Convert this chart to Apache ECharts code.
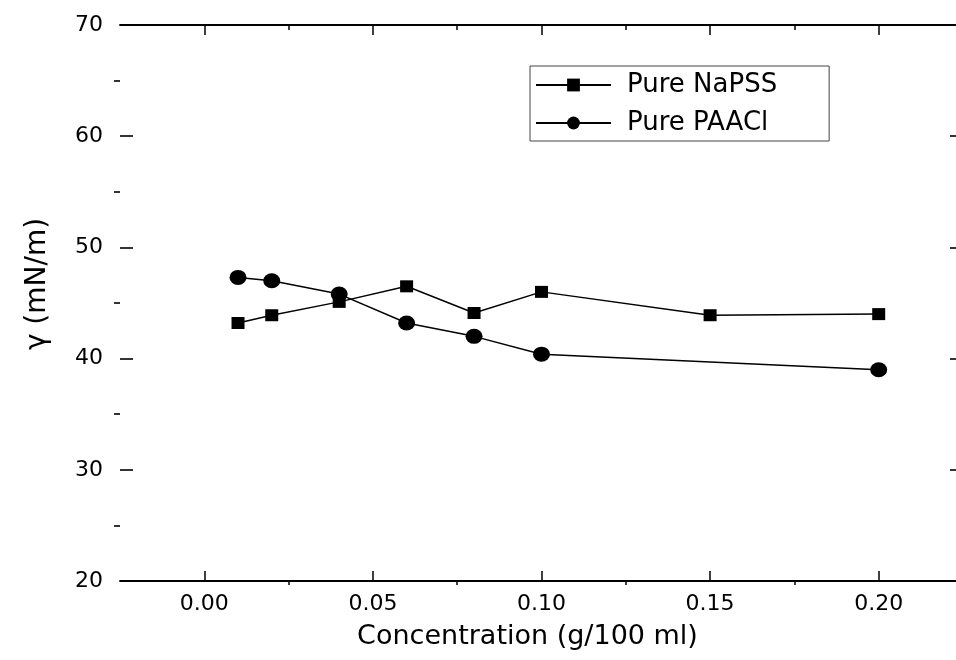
<!DOCTYPE html>
<html>
<head>
<meta charset="utf-8">
<script src="https://cdn.jsdelivr.net/npm/echarts@6/dist/echarts.min.js"></script>
<style>
  html, body { margin: 0; padding: 0; background: #fff; overflow: hidden; }
  /* the plot frame's right edge sits a few pixels past the picture, so the canvas is a bit wider than the window */
  #chart { width: 963px; height: 660px; }
</style>
</head>
<body>
<div id="chart"></div>
<script>
// data
const concNaPSS = [0.01, 0.02, 0.04, 0.06, 0.08, 0.10, 0.15, 0.20];
const gammaNaPSS = [43.2, 43.9, 45.1, 46.5, 44.1, 46.0, 43.9, 44.0];
const concPAACl = [0.01, 0.02, 0.04, 0.06, 0.08, 0.10, 0.20];
const gammaPAACl = [47.3, 47.0, 45.8, 43.2, 42.0, 40.4, 39.0];

const xTicks = [0, 0.05, 0.10, 0.15, 0.20];
const xMinorTicks = [0.025, 0.075, 0.125, 0.175];
const yMinorTicks = [25, 35, 45, 55, 65];

const pair = (xs, ys) => xs.map((x, i) => [x, ys[i]]);

const chart = echarts.init(document.getElementById('chart'));

const axisColor = '#000';
const font = 'DejaVu Sans';

let option = {
  animation: false,
  textStyle: { fontFamily: font, color: '#000' },
  grid: { left: 120, top: 25, right: 0, bottom: 79 },
  legend: {
    orient: 'vertical',
    left: 530,
    top: 66,
    padding: [5, 52, 4, 5],
    itemGap: 10,
    itemWidth: 75,
    itemHeight: 16,
    borderColor: '#444',
    borderWidth: 1,
    textStyle: { fontSize: 26, lineHeight: 28, color: '#000', padding: [0, 0, 0, 11] },
    data: ['Pure NaPSS', 'Pure PAACl']
  },
  xAxis: [
    {
      type: 'value',
      position: 'bottom',
      min: -0.025,
      max: 0.225,
      name: 'Concentration (g/100 ml)',
      nameLocation: 'middle',
      nameGap: 42,
      nameTextStyle: { fontSize: 27, color: '#000', padding: [0, 28, 0, 0] },
      axisLine: { show: true, onZero: false, lineStyle: { color: axisColor, width: 1.8 } },
      axisTick: { show: true, inside: true, length: 10, customValues: xTicks, lineStyle: { color: axisColor, width: 1.5 } },
      axisLabel: {
        customValues: xTicks,
        fontSize: 22,
        color: '#000',
        margin: 12,
        formatter: (v) => v.toFixed(2)
      },
      splitLine: { show: false }
    },
    {
      type: 'value',
      position: 'bottom',
      min: -0.025,
      max: 0.225,
      axisLine: { show: false, onZero: false },
      axisTick: { show: true, inside: false, length: 4, customValues: xMinorTicks, lineStyle: { color: axisColor, width: 1.5 } },
      axisLabel: { show: false },
      splitLine: { show: false }
    },
    {
      type: 'value',
      position: 'top',
      min: -0.025,
      max: 0.225,
      axisLine: { show: true, onZero: false, lineStyle: { color: axisColor, width: 1.8 } },
      axisTick: { show: true, inside: true, length: 10, customValues: xTicks, lineStyle: { color: axisColor, width: 1.5 } },
      minorTick: { show: true, splitNumber: 2, length: 5, lineStyle: { color: axisColor, width: 1.5 } },
      axisLabel: { show: false },
      splitLine: { show: false }
    }
  ],
  yAxis: [
    {
      type: 'value',
      position: 'left',
      min: 20,
      max: 70,
      interval: 10,
      name: 'γ (mN/m)',
      nameLocation: 'middle',
      nameGap: 68,
      nameTextStyle: { fontSize: 28, color: '#000', padding: [0, 0, 0, 38] },
      axisLine: { show: false, onZero: false },
      axisTick: { show: true, inside: true, length: 13, lineStyle: { color: axisColor, width: 1.6 } },
      axisLabel: { fontSize: 22, color: '#000', margin: 17 },
      splitLine: { show: false }
    },
    {
      type: 'value',
      position: 'left',
      min: 20,
      max: 70,
      axisLine: { show: false, onZero: false },
      axisTick: { show: true, inside: false, length: 6, customValues: yMinorTicks, lineStyle: { color: axisColor, width: 1.6 } },
      axisLabel: { show: false },
      splitLine: { show: false }
    },
    {
      type: 'value',
      position: 'right',
      min: 20,
      max: 70,
      interval: 10,
      axisLine: { show: false, onZero: false },
      axisTick: { show: true, inside: true, length: 13, lineStyle: { color: axisColor, width: 1.6 } },
      axisLabel: { show: false },
      splitLine: { show: false }
    }
  ],
  series: [
    {
      name: 'Pure NaPSS',
      type: 'line',
      xAxisIndex: 0,
      yAxisIndex: 0,
      symbol: 'rect',
      symbolSize: [13, 12],
      itemStyle: { color: '#000' },
      lineStyle: { color: '#000', width: 1.5 },
      data: pair(concNaPSS, gammaNaPSS)
    },
    {
      name: 'Pure PAACl',
      type: 'line',
      xAxisIndex: 0,
      yAxisIndex: 0,
      symbol: 'circle',
      symbolSize: [17, 15],
      itemStyle: { color: '#000' },
      lineStyle: { color: '#000', width: 1.5 },
      data: pair(concPAACl, gammaPAACl)
    }
  ]
};

chart.setOption(option);
</script>
</body>
</html>
